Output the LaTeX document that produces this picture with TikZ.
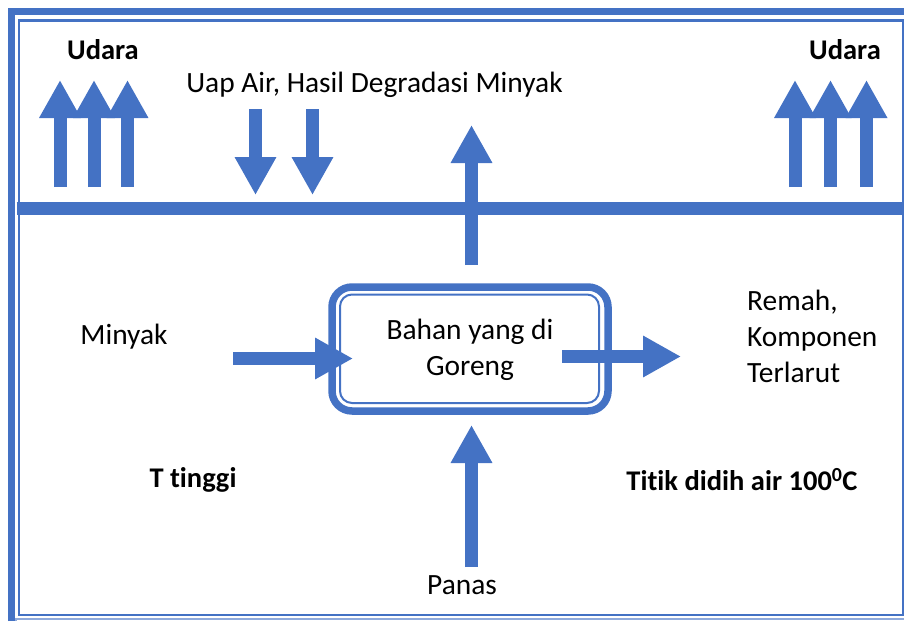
\documentclass[tikz,border=0pt]{standalone}
\usepackage{fontspec}
\setmainfont{Carlito}[Ligatures=NoCommon]
\usetikzlibrary{arrows.meta}
\definecolor{accent}{HTML}{4472C4}
\definecolor{lightaccent}{HTML}{8FAADC}
\tikzset{
  blockarrow/.style={draw=accent, line width=13pt, -{Triangle[width=39pt,length=38pt,fill=accent]}},
  lbl/.style={font=\fontsize{29.4}{36}\selectfont, inner sep=0pt, text=black},
  boldlbl/.style={inner sep=0pt, text=black, font=\fontsize{28.5}{36}\selectfont\bfseries},
  boxouter/.style={draw=accent, line width=7.5pt, rounded corners=20pt, minimum width=276pt, minimum height=124pt},
  boxinner/.style={draw=accent, line width=2pt, rounded corners=12pt, minimum width=259pt, minimum height=108.5pt},
}
\begin{document}
\begin{tikzpicture}[x=1pt,y=-1pt]
\useasboundingbox (0,0) rectangle (904,621);
% frame
\draw[accent, line width=7pt] (11.5,621) -- (11.5,11.5) -- (904,11.5);
\draw[lightaccent, line width=1.2pt] (16,621) -- (16,619) -- (904,619);
\draw[accent, line width=2.6pt] (18.8,20.5) rectangle (902.8,614.8);
% separating bar
\coordinate (barL) at (16.7,208.5);
\coordinate (barR) at (904,208.5);
\draw[accent, line width=13pt] (barL) -- (barR);
% labels
\node[boldlbl] (udaraL) at (103,50) {Udara};
\node[boldlbl] (udaraR) at (845,50) {Udara};
\node[lbl] (uap) at (374.5,85) {Uap Air, Hasil Degradasi Minyak};
\node[lbl] (minyak) at (124,337) {Minyak};
\node[lbl, align=left, anchor=west] (remah) at (747,336) {Remah,\\Komponen\\Terlarut};
\node[boldlbl] (ttinggi) at (193,480) {T tinggi};
\node[boldlbl] (titik) at (742,480) {Titik didih air 100\textsuperscript{0}C};
\node[lbl] (panas) at (462,585) {Panas};
% central box
\node[boxouter] (box) at (470,349) {};
\node[boxinner] (boxin) at (469.5,348.75) {};
\node[lbl, align=center] (boxtext) at (470,350) {Bahan yang di\\Goreng};
% udara arrows left
\foreach \x/\n in {60/a,94/b,127.5/c}{
  \coordinate (ul\n s) at (\x,187);
  \coordinate (ul\n e) at (\x,80);
  \draw[blockarrow] (ul\n s) -- (ul\n e);
}
% udara arrows right
\foreach \x/\n in {795/a,830.5/b,866.5/c}{
  \coordinate (ur\n s) at (\x,187);
  \coordinate (ur\n e) at (\x,80);
  \draw[blockarrow] (ur\n s) -- (ur\n e);
}
% down arrows
\foreach \x/\n in {255.5/a,312.5/b}{
  \coordinate (d\n s) at (\x,109);
  \coordinate (d\n e) at (\x,195);
  \draw[blockarrow] (d\n s) -- (d\n e);
}
% up arrow from box through bar
\coordinate (upS) at (471.5,265);
\coordinate (upE) at (471.5,125);
\draw[blockarrow] (upS) -- (upE);
% minyak arrow
\coordinate (minS) at (233,358.5);
\coordinate (minE) at (353,358.5);
\draw[blockarrow] (minS) -- (minE);
% out arrow
\coordinate (outS) at (562,356.5);
\coordinate (outE) at (681,356.5);
\draw[blockarrow] (outS) -- (outE);
% panas arrow
\coordinate (panS) at (471.5,567);
\coordinate (panE) at (471.5,425);
\draw[blockarrow] (panS) -- (panE);
\end{tikzpicture}
\end{document}
